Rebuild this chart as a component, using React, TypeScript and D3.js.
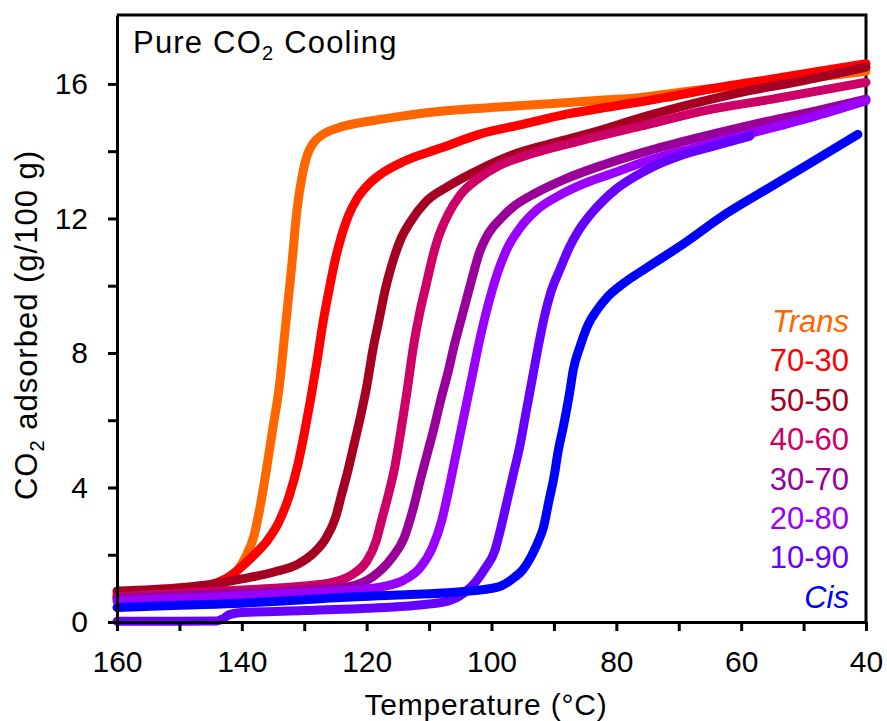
import React, { useRef, useEffect } from 'react';
import { select, scaleLinear, axisBottom, axisLeft, line, curveMonotoneX } from 'd3';

// [temperature °C, CO2 adsorbed g/100 g]
const trans = [[160,0.72],[150,0.8],[146,0.86],[143,1.1],[141,1.45],[139.5,1.9],[138,2.6],[137,3.5],[136,4.6],[135,5.8],[134,7.0],[133,8.8],[132,10.6],[131.2,12.2],[130.3,13.3],[129.5,13.9],[128.5,14.25],[127,14.5],[124.5,14.7],[121,14.85],[117,14.97],[110,15.15],[100,15.3],[90,15.42],[82,15.52],[76,15.6],[70,15.75],[60,15.95],[50,16.15],[40,16.38]];
const s7030 = [[160,0.82],[150,0.95],[145,1.1],[142,1.35],[140,1.65],[138,2.0],[136,2.4],[134,3.0],[132.5,3.7],[131,4.7],[130,5.6],[129,6.6],[128,7.7],[127,8.9],[126,9.9],[125,10.8],[124,11.5],[123,12.05],[121.5,12.6],[119.5,13.05],[117.5,13.35],[114,13.7],[108,14.1],[102,14.5],[95,14.8],[88,15.1],[80,15.35],[72,15.6],[65,15.85],[55,16.15],[40,16.6]];
const s5050 = [[160,0.92],[150,1.02],[145,1.12],[140,1.28],[135,1.48],[131,1.72],[128.5,2.05],[126.5,2.5],[125,3.1],[124,3.8],[123,4.5],[122,5.3],[121,6.1],[120,7.0],[119,8.1],[118,9.0],[117,9.9],[116,10.6],[114.5,11.4],[113,11.9],[110.5,12.5],[107,12.95],[102,13.45],[96.5,13.9],[90,14.25],[83,14.6],[76,15.0],[68,15.4],[60,15.75],[50,16.1],[40,16.5]];
const s4060 = [[160,0.75],[150,0.85],[140,0.95],[130,1.07],[125,1.2],[122,1.45],[120,1.8],[118.5,2.4],[117.5,3.1],[116.5,3.8],[115.5,4.6],[114.5,5.7],[113.5,6.9],[112.5,8.2],[111.5,9.2],[110.5,10.0],[109.5,10.8],[108.5,11.45],[107,12.1],[105,12.7],[102,13.2],[99,13.55],[94,13.9],[86,14.3],[76,14.75],[66,15.2],[55,15.55],[40,16.05]];
const s3070 = [[160,0.7],[150,0.78],[140,0.86],[130,0.95],[123,1.05],[119,1.35],[116,1.9],[114,2.5],[112.5,3.4],[111.3,4.3],[110.3,5.0],[109.3,5.7],[108,6.7],[107,7.4],[106,8.2],[105,8.9],[104,9.6],[103,10.3],[102,10.95],[100.5,11.55],[98.5,12.0],[96.5,12.35],[93,12.75],[88.5,13.15],[82,13.6],[76,13.95],[68,14.35],[58,14.8],[48,15.2],[40,15.55]];
const s2080 = [[160,0.62],[150,0.7],[140,0.78],[130,0.86],[122,0.95],[117.5,1.05],[114,1.25],[111.5,1.6],[109.5,2.2],[108,3.0],[107,3.8],[106,4.7],[105,5.6],[104,6.5],[103,7.4],[102,8.3],[101,9.1],[100,9.8],[99,10.4],[97.5,11.1],[95.5,11.7],[92.7,12.26],[89,12.7],[85,13.05],[80,13.38],[76,13.66],[68,14.08],[57,14.6],[48,15.05],[40,15.5]];
const s1090 = [[160,0.02],[150,0.02],[144,0.03],[143,0.1],[142,0.22],[140,0.28],[130,0.34],[120,0.41],[112,0.5],[107,0.62],[104.5,0.85],[102.5,1.2],[101,1.6],[99.5,2.1],[98.5,2.8],[97.5,3.6],[96.5,4.4],[95.5,5.2],[94.5,6.2],[93.5,7.2],[92.5,8.2],[91.5,9.1],[90.5,9.8],[89,10.5],[87.5,11.15],[86,11.65],[84,12.15],[82,12.55],[80,12.88],[77,13.25],[74,13.55],[70,13.85],[65,14.12],[58.6,14.45]];
const cis = [[160,0.43],[150,0.5],[140,0.56],[130,0.66],[126,0.71],[115,0.8],[105,0.9],[99,1.04],[96.5,1.3],[95,1.55],[93.5,2.0],[92.5,2.4],[91.7,2.8],[90.8,3.6],[90,4.3],[89.3,5.1],[88.5,5.8],[87.5,6.8],[86.9,7.5],[85.8,8.2],[84.5,8.85],[83,9.3],[81.5,9.65],[79,10.05],[75,10.55],[70,11.15],[62.2,12.17],[55,12.97],[48,13.75],[41.3,14.5]];

const seriesNames = ['Trans', '70-30', '50-50', '40-60', '30-70', '20-80', '10-90', 'Cis'];
const seriesData = [trans, s7030, s5050, s4060, s3070, s2080, s1090, cis];
const seriesColors = ['#FF6600', '#FF0000', '#A50021', '#CC0066', '#990099', '#9900FF', '#6600FF', '#0000FF'];

const xTicks = [160, 150, 140, 130, 120, 110, 100, 90, 80, 70, 60, 50, 40];
const yTicks = [0, 2, 4, 6, 8, 10, 12, 14, 16];

const font = 'Arial, "Liberation Sans", sans-serif';

const App = () => {
  const svgRef = useRef(null);

  const left = 117, right = 866, top = 15, bottom = 622;
  const x = scaleLinear().domain([160, 40]).range([left, right]);
  const y = scaleLinear().domain([0, 18.05]).range([bottom, top]);

  useEffect(() => {
    const svg = select(svgRef.current);

    const xAxis = axisBottom(x)
      .tickValues(xTicks)
      .tickSize(9)
      .tickSizeOuter(0)
      .tickPadding(20)
      .tickFormat(d => (d % 20 === 0 ? String(d) : ''));
    const yAxis = axisLeft(y)
      .tickValues(yTicks)
      .tickSize(9)
      .tickSizeOuter(0)
      .tickPadding(20)
      .tickFormat(d => (d % 4 === 0 ? String(d) : ''));

    const gx = svg.select('.x-axis').attr('transform', `translate(0,${bottom})`).call(xAxis);
    const gy = svg.select('.y-axis').attr('transform', `translate(${left},0)`).call(yAxis);

    [gx, gy].forEach(g => {
      g.select('.domain').attr('stroke', '#000').attr('stroke-width', 3);
      g.selectAll('.tick line').attr('stroke', '#000').attr('stroke-width', 3);
      g.selectAll('.tick text')
        .attr('font-size', 30)
        .attr('font-family', font)
        .attr('fill', '#000');
    });
  }, []);

  const lineGen = line()
    .x(d => x(d[0]))
    .y(d => y(d[1]))
    .curve(curveMonotoneX);

  return (
    <svg ref={svgRef} width={887} height={721}
      style={{ position: 'absolute', left: 0, top: 0, background: '#fff' }}>
      <rect x={0} y={0} width={887} height={721} fill="#fff" />

      {/* frame top and right */}
      <path d={`M${left},${top}H${right}V${bottom}`} fill="none" stroke="#000" strokeWidth={3} />

      {seriesData.map((d, i) => (
        <path key={seriesNames[i]} d={lineGen(d)} fill="none"
          stroke={seriesColors[i]} strokeWidth={9}
          strokeLinecap="round" strokeLinejoin="round" />
      ))}

      <g className="x-axis" />
      <g className="y-axis" />

      <text x={133} y={53} fontSize={31} letterSpacing={1.2} fontFamily={font} fill="#000">
        Pure CO<tspan fontSize={20} dy={7}>2</tspan><tspan dy={-7}> Cooling</tspan>
      </text>

      {seriesNames.map((name, i) => (
        <text key={name} x={849} y={332 + i * 39.4} textAnchor="end"
          fontSize={31} fontFamily={font} fill={seriesColors[i]}
          fontStyle={name === 'Trans' || name === 'Cis' ? 'italic' : 'normal'}>
          {name}
        </text>
      ))}

      <text x={486} y={715} textAnchor="middle" fontSize={30} letterSpacing={0.8}
        fontFamily={font} fill="#000">
        Temperature (°C)
      </text>

      <text transform="translate(37,325) rotate(-90)" textAnchor="middle"
        fontSize={31} letterSpacing={1} fontFamily={font} fill="#000">
        CO<tspan fontSize={20} dy={7}>2</tspan><tspan dy={-7}> adsorbed (g/100 g)</tspan>
      </text>
    </svg>
  );
};

export default App;
